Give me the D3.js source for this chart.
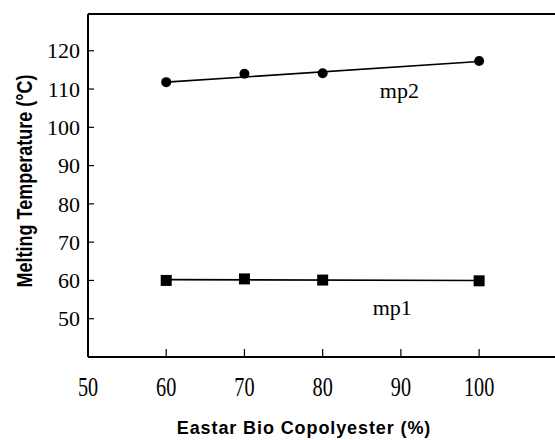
<!DOCTYPE html>
<html>
<head>
<meta charset="utf-8">
<script src="https://cdn.jsdelivr.net/npm/d3@7"></script>
<style>
  body { margin: 0; background: #fff; }
  .tick-label { font-family: "Liberation Serif", "Times New Roman", serif; font-size: 22px; fill: #000; }
  .series-label { font-family: "Liberation Serif", "Times New Roman", serif; font-size: 22px; fill: #000; }
  .axis-title { font-family: "Liberation Sans", Arial, sans-serif; font-size: 18px; font-weight: bold; fill: #000; }
</style>
</head>
<body>
<div id="chart"></div>
<script>
// data
const xTicks = [60, 70, 80, 90, 100];
const yTicks = [50, 60, 70, 80, 90, 100, 110, 120];
const content = [60, 70, 80, 100];
const mp1 = [60.0, 60.4, 60.1, 59.9];
const mp2 = [111.8, 114.0, 114.1, 117.3];
// fitted straight lines drawn through each series (end points)
const fitX = [60, 100];
const mp1Fit = [60.2, 60.0];
const mp2Fit = [111.8, 117.2];

const W = 555, H = 440;
const margin = {t: 14, l: 88, r: 0, b: 83};
const width = W - margin.l - margin.r;
const height = H - margin.t - margin.b;

const svg = d3.select("#chart").append("svg")
    .attr("width", W)
    .attr("height", H);

const x = d3.scaleLinear().domain([50, 109.7]).range([0, width]);
const y = d3.scaleLinear().domain([40, 129.6]).range([height, 0]);

const g = svg.append("g").attr("transform", `translate(${margin.l},${margin.t})`);

// frame: left, bottom, top
g.append("line").attr("x1", 0).attr("x2", width).attr("y1", 0).attr("y2", 0)
    .attr("stroke", "#000").attr("stroke-width", 2);
g.append("line").attr("x1", 0).attr("x2", width).attr("y1", height).attr("y2", height)
    .attr("stroke", "#000").attr("stroke-width", 2);
g.append("line").attr("x1", 0).attr("x2", 0).attr("y1", 0).attr("y2", height)
    .attr("stroke", "#000").attr("stroke-width", 2);

// y ticks (inward)
g.selectAll(".ytick").data(yTicks).join("line")
    .attr("class", "ytick")
    .attr("x1", 0).attr("x2", 6)
    .attr("y1", d => y(d)).attr("y2", d => y(d))
    .attr("stroke", "#000").attr("stroke-width", 1.2);
g.selectAll(".ylab").data(yTicks).join("text")
    .attr("class", "tick-label ylab")
    .attr("x", -8)
    .attr("y", d => y(d))
    .attr("dy", "0.35em")
    .attr("text-anchor", "end")
    .text(d => d);

// x ticks (inward)
g.selectAll(".xtick").data(xTicks).join("line")
    .attr("class", "xtick")
    .attr("x1", d => x(d)).attr("x2", d => x(d))
    .attr("y1", height).attr("y2", height - 8)
    .attr("stroke", "#000").attr("stroke-width", 1.2);
g.selectAll(".xlab").data([50].concat(xTicks)).join("text")
    .attr("class", "tick-label xlab")
    .attr("transform", d => `translate(${x(d)},${height + 39}) scale(0.92,1.2)`)
    .attr("text-anchor", "middle")
    .text(d => d);

// fit lines
const line = d3.line().x(d => x(d[0])).y(d => y(d[1]));
g.append("path")
    .datum(fitX.map((v, i) => [v, mp2Fit[i]]))
    .attr("d", line)
    .attr("fill", "none").attr("stroke", "#000").attr("stroke-width", 1.6);
g.append("path")
    .datum(fitX.map((v, i) => [v, mp1Fit[i]]))
    .attr("d", line)
    .attr("fill", "none").attr("stroke", "#000").attr("stroke-width", 1.6);

// markers
g.selectAll(".dot").data(content.map((v, i) => [v, mp2[i]])).join("circle")
    .attr("class", "dot")
    .attr("cx", d => x(d[0])).attr("cy", d => y(d[1]))
    .attr("r", 5).attr("fill", "#000");

const s = 11;
g.selectAll(".sq").data(content.map((v, i) => [v, mp1[i]])).join("rect")
    .attr("class", "sq")
    .attr("x", d => x(d[0]) - s / 2).attr("y", d => y(d[1]) - s / 2)
    .attr("width", s).attr("height", s).attr("fill", "#000");

// series labels
g.append("text").attr("class", "series-label")
    .attr("x", x(89.8)).attr("y", y(107.7))
    .attr("text-anchor", "middle").text("mp2");
g.append("text").attr("class", "series-label")
    .attr("x", x(88.9)).attr("y", y(51.1))
    .attr("text-anchor", "middle").text("mp1");

// axis titles
svg.append("text").attr("class", "axis-title")
    .attr("x", 304).attr("y", 434)
    .attr("text-anchor", "middle")
    .attr("letter-spacing", 0.9)
    .text("Eastar Bio Copolyester (%)");
svg.append("text").attr("class", "axis-title")
    .attr("transform", `translate(32,181) rotate(-90) scale(1,1.2)`)
    .attr("text-anchor", "middle")
    .text("Melting Temperature (°C)");
</script>
</body>
</html>
